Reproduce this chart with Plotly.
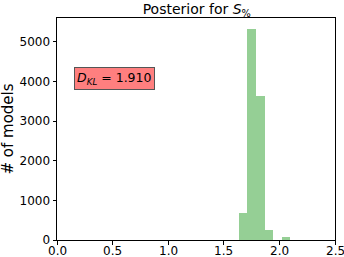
import plotly.graph_objects as go

bin_edges = [1.635, 1.712, 1.789, 1.866, 1.943, 2.020, 2.097]
counts = [690, 5330, 3630, 250, 0, 75]
x_ticks = [0.0, 0.5, 1.0, 1.5, 2.0, 2.5]
y_ticks = [0, 1000, 2000, 3000, 4000, 5000]

centers = [(bin_edges[i] + bin_edges[i + 1]) / 2 for i in range(len(counts))]
widths = [bin_edges[i + 1] - bin_edges[i] for i in range(len(counts))]

fig = go.Figure()
fig.add_trace(go.Bar(x=centers, y=counts, width=widths,
                     marker=dict(color="#95cf95", line=dict(width=0)), showlegend=False))

font = "DejaVu Sans, sans-serif"
fig.update_layout(
    width=344, height=257,
    margin=dict(l=57, r=9, t=18, b=17, autoexpand=False),
    paper_bgcolor="white", plot_bgcolor="white",
    font=dict(family=font, size=12, color="black"),
    title=dict(text="Posterior for <i>S</i><sub>%</sub>", x=0.572, xanchor="center",
               y=0.984, yanchor="top", font=dict(size=14)),
    bargap=0,
)
fig.update_xaxes(range=[0, 2.5], tickvals=x_ticks, showticklabels=False,
                 showgrid=False, zeroline=False, showline=True, linecolor="black", linewidth=1,
                 mirror=True, ticks="outside", ticklen=3.5, tickcolor="black", automargin=False)
fig.update_yaxes(range=[0, 5600], tickvals=y_ticks, ticktext=[str(v) for v in y_ticks],
                 showgrid=False, zeroline=False, showline=True, linecolor="black", linewidth=1,
                 mirror=True, ticks="outside", ticklen=3.5, tickcolor="black", automargin=False)
for v in x_ticks:
    fig.add_annotation(x=v, y=-17 / 222, xref="x", yref="paper", xanchor="center",
                       yanchor="bottom", yshift=-2, text=f"{v:.1f}", showarrow=False,
                       font=dict(size=12, family=font), borderpad=0)
fig.add_annotation(x=-0.178, y=0.5, xref="paper", yref="paper", xanchor="center", yanchor="middle",
                   text="# of models", textangle=-90, showarrow=False,
                   font=dict(size=15, family=font))
fig.add_annotation(x=0.517, y=4078, xref="x", yref="y",
                   text="<i>D</i><sub><i>KL</i></sub> = 1.910", showarrow=False,
                   bgcolor="#ff7f7f", bordercolor="#555555", borderwidth=1, borderpad=2,
                   font=dict(size=12.5, family=font))
fig.write_html("out.html")
